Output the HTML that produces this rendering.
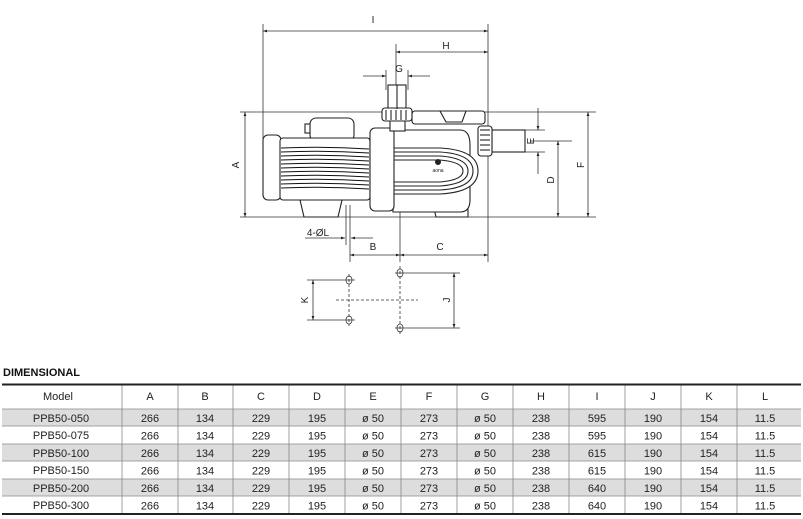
<!DOCTYPE html>
<html><head><meta charset="utf-8"><style>
html,body{margin:0;padding:0;background:#fff;}
body{width:803px;height:519px;position:relative;overflow:hidden;font-family:"Liberation Sans",Arial,sans-serif;}
svg{position:absolute;left:0;top:0;}
</style></head><body>
<svg width="803" height="519" viewBox="0 0 803 519" xmlns="http://www.w3.org/2000/svg" font-family="Liberation Sans, Arial, sans-serif">
<defs>
<marker id="a" viewBox="0 0 10 10" refX="10" refY="5" markerWidth="7" markerHeight="5" orient="auto-start-reverse"><path d="M0,1.5 L10,5 L0,8.5 z" fill="#222"/></marker>
</defs>
<g stroke="#333" stroke-width="0.8" fill="none">
<line x1="263" y1="24" x2="263" y2="150"/>
<line x1="488" y1="24" x2="488" y2="262"/>
<line x1="396" y1="44" x2="396" y2="92"/>
<line x1="386" y1="70" x2="386" y2="90"/>
<line x1="408" y1="70" x2="408" y2="90"/>
<line x1="240" y1="112" x2="596" y2="112"/>
<line x1="240" y1="217" x2="596" y2="217"/>
<line x1="530" y1="141" x2="572" y2="141"/>
<line x1="520" y1="130" x2="545" y2="130"/>
<line x1="520" y1="152" x2="545" y2="152"/>
<line x1="346" y1="205" x2="346" y2="245"/>
<line x1="350" y1="205" x2="350" y2="262"/>
<line x1="400" y1="205" x2="400" y2="262"/>
<line x1="263" y1="31" x2="488" y2="31" marker-start="url(#a)" marker-end="url(#a)"/>
<line x1="396" y1="52" x2="488" y2="52" marker-start="url(#a)" marker-end="url(#a)"/>
<line x1="363" y1="76" x2="386" y2="76" marker-end="url(#a)"/>
<line x1="430" y1="76" x2="408" y2="76" marker-end="url(#a)"/>
<line x1="245" y1="112" x2="245" y2="217" marker-start="url(#a)" marker-end="url(#a)"/>
<line x1="588" y1="112" x2="588" y2="217" marker-start="url(#a)" marker-end="url(#a)"/>
<line x1="558" y1="141" x2="558" y2="217" marker-start="url(#a)" marker-end="url(#a)"/>
<line x1="538" y1="108" x2="538" y2="130" marker-end="url(#a)"/>
<line x1="538" y1="174" x2="538" y2="152" marker-end="url(#a)"/>
<line x1="305" y1="238" x2="345" y2="238" marker-end="url(#a)"/>
<line x1="373" y1="238" x2="351" y2="238" marker-end="url(#a)"/>
<line x1="350" y1="255" x2="400" y2="255" marker-start="url(#a)" marker-end="url(#a)"/>
<line x1="400" y1="255" x2="488" y2="255" marker-start="url(#a)" marker-end="url(#a)"/>
<line x1="307" y1="280" x2="355" y2="280"/>
<line x1="307" y1="320" x2="355" y2="320"/>
<line x1="313" y1="280" x2="313" y2="320" marker-start="url(#a)" marker-end="url(#a)"/>
<line x1="395" y1="273" x2="460" y2="273"/>
<line x1="395" y1="328" x2="460" y2="328"/>
<line x1="454" y1="273" x2="454" y2="328" marker-start="url(#a)" marker-end="url(#a)"/>
<line x1="336" y1="300" x2="418" y2="300" stroke-dasharray="3,2"/>
<line x1="349" y1="274" x2="349" y2="326" stroke-dasharray="3,2"/>
<line x1="400" y1="266" x2="400" y2="334" stroke-dasharray="3,2"/>
<ellipse cx="349" cy="280" rx="3" ry="4"/><ellipse cx="349" cy="320" rx="3" ry="4"/>
<ellipse cx="400" cy="273" rx="3" ry="4"/><ellipse cx="400" cy="328" rx="3" ry="4"/>
</g>
<g stroke="#222" stroke-width="1.1" fill="#fff">
<path d="M300,200 L304,217 L338,217 L342,200 z"/>
<path d="M432,200 L436,217 L468,217 L468,200 z"/>
<rect x="310" y="118" width="44" height="23" rx="6"/>
<rect x="305" y="124" width="5" height="9"/>
<rect x="263" y="135" width="18" height="65" rx="5"/>
<rect x="280" y="138" width="90" height="62" rx="3"/>
<path d="M393,130 L460,130 Q470,130 470,145 L470,200 Q470,212 460,212 L393,212 z"/>
<path d="M393,148 L440,148 Q478,150 478,171 Q478,192 440,194 L393,194 z"/>
<path d="M393,152 L440,152 Q473,154 473,171 Q473,188 440,190 L393,190 z"/>
<path d="M393,156 L440,156 Q468,158 468,171 Q468,184 440,186 L393,186 z"/>
<path d="M393,160 L440,160 Q463,162 463,171 Q463,180 440,182 L393,182 z"/>
<rect x="370" y="128" width="24" height="83" rx="5"/>
<rect x="412" y="111" width="73" height="13" rx="3"/>
<path d="M440,111 L466,111 L462,122 L446,122 z"/>
<rect x="390" y="119" width="15" height="12"/>
<rect x="388" y="85" width="18" height="24"/>
<rect x="382" y="108" width="30" height="13" rx="3"/>
<rect x="492" y="130" width="33" height="22"/>
<rect x="478" y="126" width="14" height="30" rx="3"/>
</g>
<g stroke="#111" stroke-width="1">
<line x1="397" y1="85" x2="397" y2="109"/>
<line x1="386" y1="110" x2="386" y2="120"/><line x1="391" y1="110" x2="391" y2="120"/><line x1="396" y1="110" x2="396" y2="120"/><line x1="401" y1="110" x2="401" y2="120"/><line x1="406" y1="110" x2="406" y2="120"/>
<line x1="480" y1="130" x2="490" y2="130"/><line x1="480" y1="135" x2="490" y2="135"/><line x1="480" y1="140" x2="490" y2="140"/><line x1="480" y1="145" x2="490" y2="145"/><line x1="480" y1="150" x2="490" y2="150"/>
<path d="M281,148 Q325,146 369,149 M281,152 Q325,150 369,153 M281,156 Q325,154 369,157 M281,160 Q325,158 369,161 M281,164 Q325,162 369,165 M281,168 Q325,166 369,169 M281,172 Q325,170 369,173 M281,176 Q325,174 369,177 M281,180 Q325,178 369,181 M281,184 Q325,182 369,185 M281,188 Q325,186 369,189" fill="none"/>
</g>
<circle cx="438" cy="162" r="3" fill="#222"/>
<text x="438" y="172" font-size="5" text-anchor="middle" fill="#222">aona</text>
<g font-size="10" fill="#222" text-anchor="middle">
<text x="373" y="23">I</text>
<text x="446" y="49">H</text>
<text x="399" y="72">G</text>
<text x="373" y="250">B</text>
<text x="440" y="250">C</text>
<text x="318" y="236">4-ØL</text>
<text transform="translate(239,165) rotate(-90)">A</text>
<text transform="translate(584,165) rotate(-90)">F</text>
<text transform="translate(554,180) rotate(-90)">D</text>
<text transform="translate(534,141) rotate(-90)">E</text>
<text transform="translate(308,300) rotate(-90)">K</text>
<text transform="translate(450,300) rotate(-90)">J</text>
</g>
<text x="3" y="376" font-size="11" font-weight="bold" fill="#111">DIMENSIONAL</text>
<g fill="#ddd">
<rect x="2" y="409" width="799" height="17"/>
<rect x="2" y="444" width="799" height="17"/>
<rect x="2" y="479" width="799" height="17"/>
</g>
<g stroke="#888" stroke-width="0.8">
<line x1="2" y1="409" x2="801" y2="409"/><line x1="2" y1="426" x2="801" y2="426"/><line x1="2" y1="444" x2="801" y2="444"/><line x1="2" y1="461" x2="801" y2="461"/><line x1="2" y1="479" x2="801" y2="479"/><line x1="2" y1="496" x2="801" y2="496"/>
<line x1="122" y1="385" x2="122" y2="514"/><line x1="178" y1="385" x2="178" y2="514"/><line x1="233" y1="385" x2="233" y2="514"/><line x1="289" y1="385" x2="289" y2="514"/><line x1="345" y1="385" x2="345" y2="514"/><line x1="401" y1="385" x2="401" y2="514"/><line x1="457" y1="385" x2="457" y2="514"/><line x1="513" y1="385" x2="513" y2="514"/><line x1="569" y1="385" x2="569" y2="514"/><line x1="625" y1="385" x2="625" y2="514"/><line x1="681" y1="385" x2="681" y2="514"/><line x1="737" y1="385" x2="737" y2="514"/>
</g>
<line x1="2" y1="384.5" x2="801" y2="384.5" stroke="#222" stroke-width="2"/>
<line x1="2" y1="514" x2="801" y2="514" stroke="#222" stroke-width="2"/>
<g font-size="11" fill="#222" text-anchor="middle">
<text x="58" y="400">Model</text><text x="150" y="400">A</text><text x="205" y="400">B</text><text x="261" y="400">C</text><text x="317" y="400">D</text><text x="373" y="400">E</text><text x="429" y="400">F</text><text x="485" y="400">G</text><text x="541" y="400">H</text><text x="597" y="400">I</text><text x="653" y="400">J</text><text x="709" y="400">K</text><text x="765" y="400">L</text>
</g>
<g font-size="11" fill="#222" text-anchor="middle">
<text x="61" y="422">PPB50-050</text><text x="61" y="439">PPB50-075</text><text x="61" y="457">PPB50-100</text><text x="61" y="474">PPB50-150</text><text x="61" y="492">PPB50-200</text><text x="61" y="509">PPB50-300</text>
</g>
<g font-size="11" fill="#222" text-anchor="middle">
<g transform="translate(0,0)"><text x="150" y="422">266</text><text x="205" y="422">134</text><text x="261" y="422">229</text><text x="317" y="422">195</text><text x="373" y="422">ø 50</text><text x="429" y="422">273</text><text x="485" y="422">ø 50</text><text x="541" y="422">238</text><text x="597" y="422">595</text><text x="653" y="422">190</text><text x="709" y="422">154</text><text x="765" y="422">11.5</text></g>
<g transform="translate(0,17.5)"><text x="150" y="422">266</text><text x="205" y="422">134</text><text x="261" y="422">229</text><text x="317" y="422">195</text><text x="373" y="422">ø 50</text><text x="429" y="422">273</text><text x="485" y="422">ø 50</text><text x="541" y="422">238</text><text x="597" y="422">595</text><text x="653" y="422">190</text><text x="709" y="422">154</text><text x="765" y="422">11.5</text></g>
<g transform="translate(0,35)"><text x="150" y="422">266</text><text x="205" y="422">134</text><text x="261" y="422">229</text><text x="317" y="422">195</text><text x="373" y="422">ø 50</text><text x="429" y="422">273</text><text x="485" y="422">ø 50</text><text x="541" y="422">238</text><text x="597" y="422">615</text><text x="653" y="422">190</text><text x="709" y="422">154</text><text x="765" y="422">11.5</text></g>
<g transform="translate(0,52.5)"><text x="150" y="422">266</text><text x="205" y="422">134</text><text x="261" y="422">229</text><text x="317" y="422">195</text><text x="373" y="422">ø 50</text><text x="429" y="422">273</text><text x="485" y="422">ø 50</text><text x="541" y="422">238</text><text x="597" y="422">615</text><text x="653" y="422">190</text><text x="709" y="422">154</text><text x="765" y="422">11.5</text></g>
<g transform="translate(0,70)"><text x="150" y="422">266</text><text x="205" y="422">134</text><text x="261" y="422">229</text><text x="317" y="422">195</text><text x="373" y="422">ø 50</text><text x="429" y="422">273</text><text x="485" y="422">ø 50</text><text x="541" y="422">238</text><text x="597" y="422">640</text><text x="653" y="422">190</text><text x="709" y="422">154</text><text x="765" y="422">11.5</text></g>
<g transform="translate(0,87.5)"><text x="150" y="422">266</text><text x="205" y="422">134</text><text x="261" y="422">229</text><text x="317" y="422">195</text><text x="373" y="422">ø 50</text><text x="429" y="422">273</text><text x="485" y="422">ø 50</text><text x="541" y="422">238</text><text x="597" y="422">640</text><text x="653" y="422">190</text><text x="709" y="422">154</text><text x="765" y="422">11.5</text></g>
</g>
</svg>
</body></html>
